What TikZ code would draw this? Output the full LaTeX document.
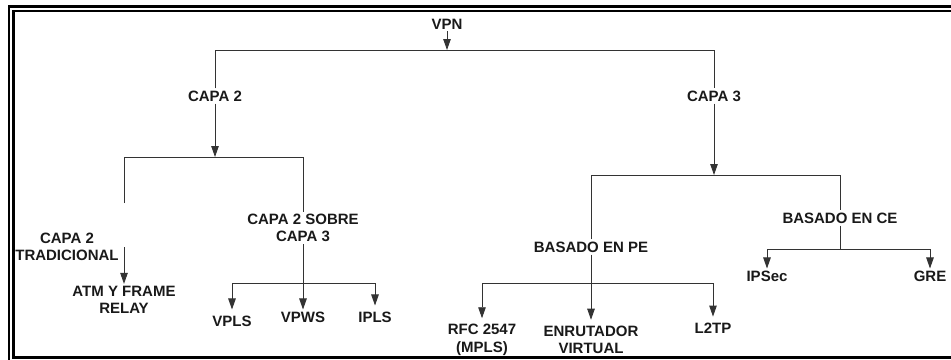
\documentclass[tikz,border=0pt]{standalone}
\usepackage{fontspec}
\setmainfont{Liberation Sans}
\usepackage{tikz}
\usetikzlibrary{arrows.meta}

\begin{document}
\begin{tikzpicture}[x=1pt, y=-1pt,
  lbl/.style={font=\bfseries\fontsize{15}{17.5}\selectfont, align=center, inner sep=2pt, text=black!90},
  leaf/.style={lbl, inner ysep=6pt},
  conn/.style={line width=0.9pt, draw=black!80},
  arr/.style={conn, -{Triangle[length=11pt, width=7.5pt]}}]
  \useasboundingbox (0,0) rectangle (951,359);
  \clip (0,0) rectangle (951,359);
  \draw[line width=2.6pt] (960,6.5) -- (9,6.5) -- (9,370);
  \draw[line width=2.2pt] (960,10.8) -- (13.5,10.8) -- (13.5,357.5) -- (960,357.5);

  \node[lbl] (vpn) at (447,24) {VPN};
  \coordinate (bar1) at (447,50);
  \node[lbl] (capa2) at (215,96) {CAPA 2};
  \node[lbl] (capa3) at (714,96) {CAPA 3};

  \coordinate (bar2) at (215,157);
  \coordinate (tradtop) at (124,203);
  \coordinate (tradarr) at (124,247);
  \node[lbl] (trad) at (67,247) {CAPA 2\\TRADICIONAL};
  \node[lbl] (atm) at (124,300) {ATM Y FRAME\\RELAY};
  \node[lbl] (sobre) at (303,228) {CAPA 2 SOBRE\\CAPA 3};
  \coordinate (bar3) at (303,283);
  \node[leaf] (vpls) at (232,321) {VPLS};
  \node[lbl] (vpws) at (303,317) {VPWS};
  \node[leaf] (ipls) at (375,317) {IPLS};

  \coordinate (bar4) at (714,175);
  \node[lbl] (pe) at (591,247) {BASADO EN PE};
  \node[lbl] (ce) at (840,218) {BASADO EN CE};
  \coordinate (bar5) at (840,249);
  \node[lbl] (ipsec) at (767,276) {IPSec};
  \node[lbl] (gre) at (930,276) {GRE};
  \coordinate (bar6) at (591,283);
  \node[leaf] (rfc) at (482,340) {RFC 2547\\(MPLS)};
  \node[leaf] (enrut) at (591,340) {ENRUTADOR\\VIRTUAL};
  \node[leaf] (l2tp) at (713,328) {L2TP};

  \draw[arr] (vpn) -- (bar1);
  \draw[conn] (capa2) -- (capa2 |- bar1) -- (capa3 |- bar1) -- (capa3);

  \draw[arr] (capa2) -- (capa2 |- bar2);
  \draw[conn] (tradtop) -- (tradtop |- bar2) -- (sobre |- bar2) -- (sobre);
  \draw[arr] (tradarr) -- (atm);
  \draw[arr] (sobre) -- (vpws);
  \draw[conn] (vpls |- bar3) -- (ipls |- bar3);
  \foreach \n in {vpls, ipls}
    \draw[arr] (\n |- bar3) -- (\n);

  \draw[arr] (capa3) -- (capa3 |- bar4);
  \draw[conn] (pe) -- (pe |- bar4) -- (ce |- bar4) -- (ce);
  \draw[conn] (ce) -- (bar5);
  \draw[conn] (ipsec |- bar5) -- (gre |- bar5);
  \foreach \n in {ipsec, gre}
    \draw[arr] (\n |- bar5) -- (\n);
  \draw[arr] (pe) -- (enrut);
  \draw[conn] (rfc |- bar6) -- (l2tp |- bar6);
  \foreach \n in {rfc, l2tp}
    \draw[arr] (\n |- bar6) -- (\n);
\end{tikzpicture}
\end{document}
